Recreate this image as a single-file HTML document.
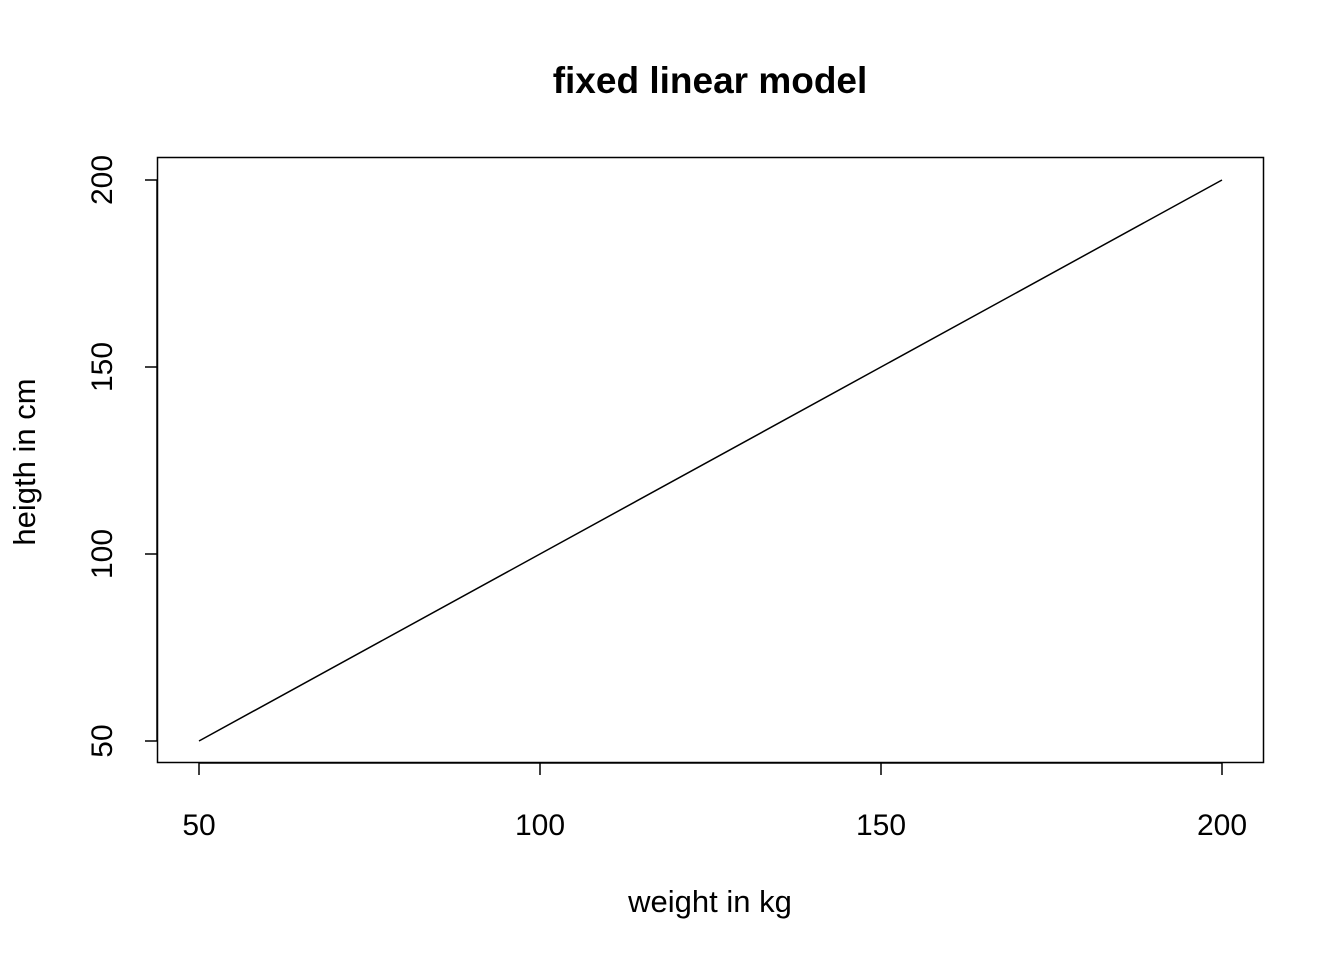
<!DOCTYPE html>
<html>
<head>
<meta charset="utf-8">
<style>
  html,body{margin:0;padding:0;background:#fff;}
  svg{display:block;font-family:"Liberation Sans",Arial,sans-serif;}
</style>
</head>
<body>
<svg id="chart" width="1344" height="960" viewBox="0 0 1344 960">
  <text x="710" y="93" text-anchor="middle" font-size="37" font-weight="bold">fixed linear model</text>
  <rect x="157.5" y="157.5" width="1106" height="605" fill="none" stroke="#000" stroke-width="1.5"/>
  <text x="710" y="912" text-anchor="middle" font-size="31">weight in kg</text>
  <text transform="translate(35,462) rotate(-90)" text-anchor="middle" font-size="31">heigth in cm</text>
  <g id="xaxis"></g>
  <g id="yaxis"></g>
  <g id="series"></g>
</svg>
<script>
const xValues = [50, 100, 150, 200];
const yValues = [50, 100, 150, 200];
const xTicks = [50, 100, 150, 200];
const yTicks = [50, 100, 150, 200];

const NS = "http://www.w3.org/2000/svg";
function sx(v){ return 199 + (v - 50) * (1222 - 199) / 150; }
function sy(v){ return 741 - (v - 50) * (741 - 180) / 150; }

const xa = document.getElementById('xaxis');
const ya = document.getElementById('yaxis');
const se = document.getElementById('series');

const xl = document.createElementNS(NS,'line');
xl.setAttribute('x1', sx(xTicks[0])); xl.setAttribute('x2', sx(xTicks[xTicks.length-1]));
xl.setAttribute('y1', 763); xl.setAttribute('y2', 763);
xl.setAttribute('stroke','#000'); xl.setAttribute('stroke-width','1.5');


xa.appendChild(xl);
xTicks.forEach(t=>{
  const l = document.createElementNS(NS,'line');
  l.setAttribute('x1', sx(t)); l.setAttribute('x2', sx(t));
  l.setAttribute('y1', 763); l.setAttribute('y2', 775);
  l.setAttribute('stroke','#000'); l.setAttribute('stroke-width','1.5');
  
  
  xa.appendChild(l);
  const tx = document.createElementNS(NS,'text');
  tx.setAttribute('x', sx(t)); tx.setAttribute('y', 835);
  tx.setAttribute('text-anchor','middle'); tx.setAttribute('font-size','30');
  tx.textContent = t;
  
  
  xa.appendChild(tx);
});

const yl = document.createElementNS(NS,'line');
yl.setAttribute('x1', 157); yl.setAttribute('x2', 157);
yl.setAttribute('y1', sy(yTicks[0])); yl.setAttribute('y2', sy(yTicks[yTicks.length-1]));
yl.setAttribute('stroke','#000'); yl.setAttribute('stroke-width','1.5');


ya.appendChild(yl);
yTicks.forEach(t=>{
  const l = document.createElementNS(NS,'line');
  l.setAttribute('x1', 145); l.setAttribute('x2', 157);
  l.setAttribute('y1', sy(t)); l.setAttribute('y2', sy(t));
  l.setAttribute('stroke','#000'); l.setAttribute('stroke-width','1.5');
  
  
  ya.appendChild(l);
  const tx = document.createElementNS(NS,'text');
  tx.setAttribute('transform', 'translate(112,' + sy(t) + ') rotate(-90)');
  tx.setAttribute('text-anchor','middle'); tx.setAttribute('font-size','30');
  tx.textContent = t;
  
  
  ya.appendChild(tx);
});

const pts = xValues.map((x,i)=> sx(x) + ',' + sy(yValues[i])).join(' ');
const pl = document.createElementNS(NS,'polyline');
pl.setAttribute('points', pts);
pl.setAttribute('fill','none'); pl.setAttribute('stroke','#000'); pl.setAttribute('stroke-width','1.5');


se.appendChild(pl);
</script>
</body>
</html>
